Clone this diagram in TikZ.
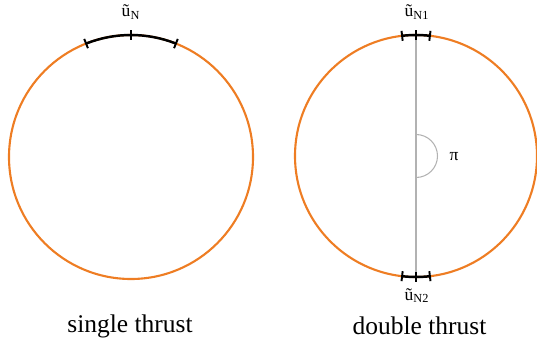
\documentclass[tikz,border=0pt]{standalone}
\usepackage{fontspec}
\setmainfont{Liberation Serif}
\usepackage{tikz}
\usetikzlibrary{calc}
\definecolor{thrustorange}{RGB}{238,125,35}

\begin{document}
\begin{tikzpicture}[x=0.02cm, y=0.02cm,
    rim/.style={thrustorange, line width=1.2pt},
    zone/.style={black, line width=1.4pt},
    tick/.style={black, line width=1.1pt},
    guide/.style={black!30, line width=0.6pt},
    lbl/.style={font=\fontsize{10}{12}\selectfont, inner sep=0pt},
    caption/.style={font=\fontsize{14.5}{17}\selectfont, inner sep=0pt, anchor=base}]
  \useasboundingbox (0,0) rectangle (537,345);
  % single thrust
  \coordinate (cs) at (131,188);
  \draw[rim] (cs) circle (122);
  \draw[zone] ($(cs)+(68.4:122)$) arc (68.4:111.6:122);
  \foreach \a in {68.4,90,111.6}
    \draw[tick] ($(cs)+(\a:117)$) -- ($(cs)+(\a:127)$);
  \node[lbl, anchor=base] (uN) at (131,328) {ũ\textsubscript{N}};
  \node[caption] (single) at (130,12.7) {single thrust};
  % double thrust
  \coordinate (cd) at (416,189);
  \draw[rim] (cd) circle (121);
  \coordinate (top) at ($(cd)+(90:121)$);
  \coordinate (bot) at ($(cd)+(-90:121)$);
  \draw[guide] (top) -- (bot);
  \draw[guide] ($(cd)+(0,21.5)$) arc (90:-90:21.5);
  \node[lbl] (pi) at (454,188) {π};
  \draw[zone] ($(cd)+(83.4:121)$) arc (83.4:96.6:121);
  \draw[zone] ($(cd)+(-96.6:121)$) arc (-96.6:-83.4:121);
  \foreach \a in {83.4,90,96.6,-83.4,-90,-96.6}
    \draw[tick] ($(cd)+(\a:116)$) -- ($(cd)+(\a:126)$);
  \node[lbl, anchor=base] (uN1) at (417,328) {ũ\textsubscript{N1}};
  \node[lbl, anchor=base] (uN2) at (417,45) {ũ\textsubscript{N2}};
  \node[caption] (double) at (419.5,10.7) {double thrust};
\end{tikzpicture}
\end{document}
